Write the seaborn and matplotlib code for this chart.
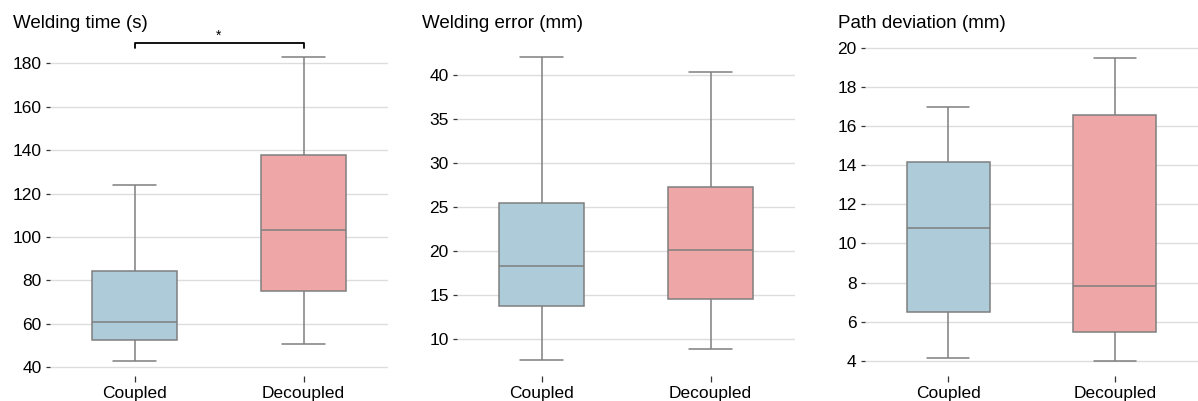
import numpy as np
import pandas as pd
import matplotlib
matplotlib.use("Agg")
import matplotlib.pyplot as plt
import seaborn as sns

# Box summaries: min, q1, median, q3, max
conditions = ["Coupled", "Decoupled"]
welding_time = {"Coupled": [42.7, 52.7, 60.8, 84.6, 123.8],
                "Decoupled": [50.8, 75.2, 103.4, 137.7, 182.9]}
welding_error = {"Coupled": [7.6, 13.8, 18.35, 25.5, 42.0],
                 "Decoupled": [8.87, 14.6, 20.1, 27.3, 40.3]}
path_deviation = {"Coupled": [4.17, 6.52, 10.79, 14.18, 16.95],
                  "Decoupled": [4.02, 5.46, 7.83, 16.58, 19.46]}

titles = ["Welding time (s)", "Welding error (mm)", "Path deviation (mm)"]
yticks = [[40, 60, 80, 100, 120, 140, 160, 180],
          [10, 15, 20, 25, 30, 35, 40],
          [4, 6, 8, 10, 12, 14, 16, 18, 20]]
ylims = [(36.0, 190.8), (5.84, 43.93), (3.23, 20.39)]

palette = {"Coupled": "#aecbda", "Decoupled": "#eea6a7"}

sns.set_theme(style="ticks")
plt.rcParams["font.family"] = ["Liberation Sans", "DejaVu Sans"]
plt.rcParams["text.color"] = "black"
plt.rcParams["xtick.color"] = "black"
plt.rcParams["ytick.color"] = "black"


def to_long(summary):
    rows = []
    for cond in conditions:
        for v in summary[cond]:
            rows.append({"condition": cond, "value": v})
    return pd.DataFrame(rows)


fig = plt.figure(figsize=(11.98, 4.01), dpi=100)
lefts = [50, 457, 865]
widths = [338, 338, 333]
title_x = [13, 422, 838]

for i, summary in enumerate([welding_time, welding_error, path_deviation]):
    ax = fig.add_axes([lefts[i] / 1198, 25 / 401, widths[i] / 1198, 336 / 401])
    df = to_long(summary)
    sns.boxplot(data=df, x="condition", y="value", hue="condition", order=conditions,
                palette=palette, legend=False, saturation=1, width=0.5,
                whis=(0, 100), linecolor="#7f7f7f", linewidth=1.1, ax=ax)
    ax.set_xlim(-0.5, 1.5)
    ax.set_ylim(*ylims[i])
    ax.set_yticks(yticks[i])
    ax.set_xlabel("")
    ax.set_ylabel("")
    ax.yaxis.grid(True, color="#dddddd", linewidth=1)
    ax.xaxis.grid(False)
    ax.set_axisbelow(True)
    sns.despine(ax=ax, left=True, bottom=True)
    ax.tick_params(axis="y", left=True, labelsize=12.5, length=3, width=0.9, pad=3,
                   color="#333333", labelcolor="black")
    ax.tick_params(axis="x", bottom=True, labelsize=12.5, length=4, width=0.9, pad=3,
                   color="#333333", labelcolor="black")
    fig.text(title_x[i] / 1198, 1 - 23 / 401, titles[i], fontsize=13.5,
             ha="left", va="center", color="black")

    if i == 0:
        # significance bracket between the two conditions
        ax.plot([0, 0, 1, 1], [186.9, 189.2, 189.2, 186.9], color="black",
                linewidth=1.3, clip_on=False)
        ax.text(0.5, 189.6, "*", ha="center", va="bottom", fontsize=10, clip_on=False)

fig.savefig("out.png", dpi=100)
